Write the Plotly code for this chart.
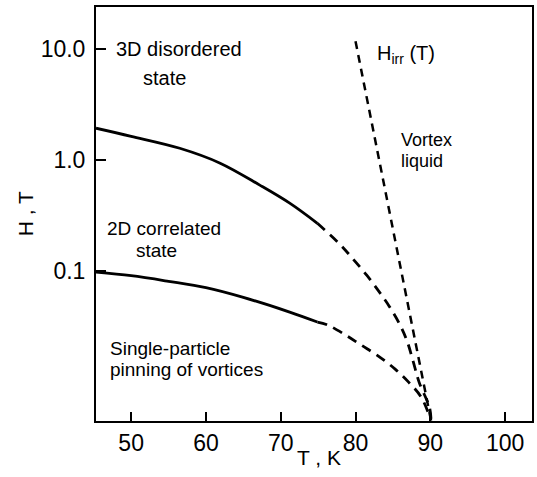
import plotly.graph_objects as go

# Upper boundary (3D disordered / 2D correlated): measured + extrapolated part
upper_T = [45.3, 50, 56.5, 61.9, 67.2, 71.2, 74.9, 77.9, 79.7, 81.5, 83.2, 84.5, 85.9, 86.9, 87.7, 88.5, 89.9, 90.1]
upper_H = [1.94, 1.64, 1.28, 0.94, 0.596, 0.41, 0.27, 0.175, 0.128, 0.092, 0.0647, 0.0484, 0.0333, 0.0234, 0.0155, 0.0100, 0.0059, 0.0045]

# Lower boundary (2D correlated / single-particle pinning)
lower_T = [45.3, 50, 55, 60, 65, 71.2, 74.9, 76.3, 78.7, 80.8, 83.1, 85.3, 87.1, 88.8, 90.1]
lower_H = [0.098, 0.091, 0.081, 0.071, 0.058, 0.0428, 0.0348, 0.0327, 0.0265, 0.0215, 0.0171, 0.0131, 0.0100, 0.0073, 0.0045]

# Measured (solid) up to this temperature, extrapolated (dashed) beyond
T_split = 74.9

# Irreversibility line
hirr_T = [80, 90.1]
hirr_H = [11.8, 0.0045]

x_ticks = [50, 60, 70, 80, 90, 100]
y_ticks = [10, 1, 0.1]
y_tick_labels = ["10.0", "1.0", "0.1"]

FONT = "Liberation Sans, Arial, Helvetica, sans-serif"

fig = go.Figure()


def add_boundary(T, H):
    sT = [t for t in T if t <= T_split]
    sH = [h for t, h in zip(T, H) if t <= T_split]
    dT = [t for t in T if t >= T_split]
    dH = [h for t, h in zip(T, H) if t >= T_split]
    fig.add_trace(go.Scatter(x=sT, y=sH, mode="lines",
                             line=dict(color="black", width=2.8, shape="spline"),
                             showlegend=False))
    fig.add_trace(go.Scatter(x=dT, y=dH, mode="lines",
                             line=dict(color="black", width=2.8, dash="10px,7px", shape="spline"),
                             showlegend=False))


add_boundary(upper_T, upper_H)
add_boundary(lower_T, lower_H)
fig.add_trace(go.Scatter(x=hirr_T, y=hirr_H, mode="lines",
                         line=dict(color="black", width=2.5, dash="8px,6px"),
                         showlegend=False))

labels = [
    ("3D disordered", 47.8, 1.0, 20),
    ("state", 51.5, 0.74, 20),
    ("2D correlated", 46.6, -0.62, 19),
    ("state", 50.5, -0.81, 19),
    ("Single-particle", 47.1, -1.70, 19),
    ("pinning of vortices", 47.1, -1.89, 19),
    ("Vortex", 86.0, 0.18, 18),
    ("liquid", 86.0, -0.01, 18),
    ("H<sub>irr</sub> (T)", 82.7, 0.955, 20),
]
for text, tx, ty, fs in labels:
    fig.add_annotation(x=tx, y=ty, xref="x", yref="y", text=text, showarrow=False,
                       xanchor="left", yanchor="middle", borderpad=0,
                       font=dict(family=FONT, size=fs, color="black"))

fig.add_annotation(x=-0.162, y=0.50, xref="paper", yref="paper", text="H , T",
                   showarrow=False, textangle=-90, xanchor="center", yanchor="middle",
                   font=dict(family=FONT, size=21, color="black"))
fig.add_annotation(x=0.511, y=-0.087, xref="paper", yref="paper", text="T , K",
                   showarrow=False, xanchor="center", yanchor="middle",
                   font=dict(family=FONT, size=21, color="black"))

fig.update_xaxes(range=[45.3, 103.6], tickvals=x_ticks, ticks="inside", ticklen=9,
                 tickwidth=1.5, tickcolor="black", showline=True, linecolor="black",
                 linewidth=2, mirror=True, showgrid=False, zeroline=False,
                 tickfont=dict(family=FONT, size=23, color="black"))
fig.update_yaxes(type="log", range=[-2.35, 1.38], tickvals=y_ticks, ticktext=y_tick_labels,
                 ticks="inside", ticklen=10, tickwidth=1.5, tickcolor="black",
                 showline=True, linecolor="black", linewidth=2, mirror=True,
                 showgrid=False, zeroline=False, ticklabelstandoff=4,
                 tickfont=dict(family=FONT, size=23, color="black"))

fig.update_layout(width=537, height=477, margin=dict(l=96, r=3, t=7, b=56),
                  plot_bgcolor="white", paper_bgcolor="white", showlegend=False)

fig.write_html("out.html")
